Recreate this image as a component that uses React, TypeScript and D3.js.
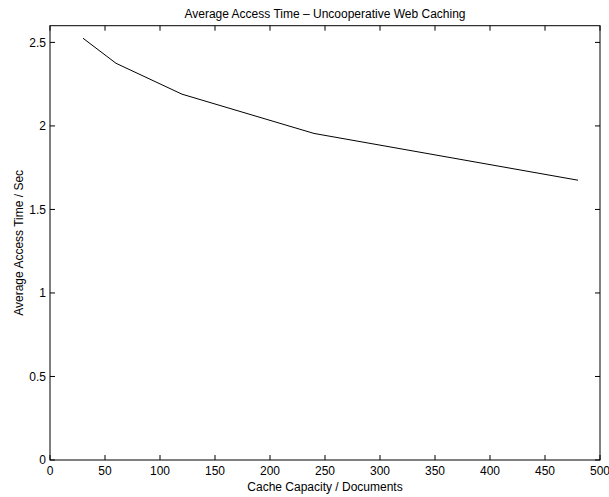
import React from "react";
import * as d3 from "d3";

const capacities = [30, 60, 120, 240, 480];
const accessTimes = [2.525, 2.375, 2.19, 1.955, 1.675];
const xTicks = [0, 50, 100, 150, 200, 250, 300, 350, 400, 450, 500];
const yTicks = [0, 0.5, 1, 1.5, 2, 2.5];
const titleText = "Average Access Time \u2013 Uncooperative Web Caching";
const xLabelText = "Cache Capacity / Documents";
const yLabelText = "Average Access Time / Sec";

const W = 609;
const H = 497;
const left = 50;
const right = 600;
const top = 25.7;
const bottom = 460;
const font = "'Liberation Sans', Arial, Helvetica, sans-serif";
const fs = 12;
const tickLen = 5;

export default function App() {
  const x = d3.scaleLinear().domain([0, 500]).range([left, right]);
  const y = d3.scaleLinear().domain([0, 2.6]).range([bottom, top]);
  const line = d3
    .line<number>()
    .x((_, i) => x(capacities[i]))
    .y((d) => y(d));
  const yFmt = (v: number) => String(v);
  return (
    <svg
      width={W}
      height={H}
      style={{ position: "absolute", left: 0, top: 0, background: "#fff" }}
    >
      <rect x={0} y={0} width={W} height={H} fill="#fff" />
      <path d={line(accessTimes) || ""} fill="none" stroke="#000" strokeWidth={1} />
      {xTicks.map((t) => (
        <g key={"x" + t}>
          <line x1={x(t)} x2={x(t)} y1={bottom} y2={bottom - tickLen} stroke="#000" />
          <line x1={x(t)} x2={x(t)} y1={top} y2={top + tickLen} stroke="#000" />
          <text
            x={x(t)}
            y={475}
            textAnchor="middle"
            fontFamily={font}
            fontSize={fs}
            fill="#000"
          >
            {t}
          </text>
        </g>
      ))}
      {yTicks.map((t) => (
        <g key={"y" + t}>
          <line x1={left} x2={left + tickLen} y1={y(t)} y2={y(t)} stroke="#000" />
          <line x1={right} x2={right - tickLen} y1={y(t)} y2={y(t)} stroke="#000" />
          <text
            x={46}
            y={y(t)}
            dy="0.35em"
            textAnchor="end"
            fontFamily={font}
            fontSize={fs}
            fill="#000"
          >
            {yFmt(t)}
          </text>
        </g>
      ))}
      <rect
        x={left}
        y={top}
        width={right - left}
        height={bottom - top}
        fill="none"
        stroke="#000"
        strokeWidth={1}
      />
      <text
        x={(left + right) / 2}
        y={18}
        textAnchor="middle"
        fontFamily={font}
        fontSize={fs}
        fill="#000"
      >
        {titleText}
      </text>
      <text
        x={(left + right) / 2}
        y={491}
        textAnchor="middle"
        fontFamily={font}
        fontSize={fs}
        fill="#000"
      >
        {xLabelText}
      </text>
      <text
        transform={`translate(23,${(top + bottom) / 2}) rotate(-90)`}
        textAnchor="middle"
        fontFamily={font}
        fontSize={fs}
        fill="#000"
      >
        {yLabelText}
      </text>
    </svg>
  );
}
